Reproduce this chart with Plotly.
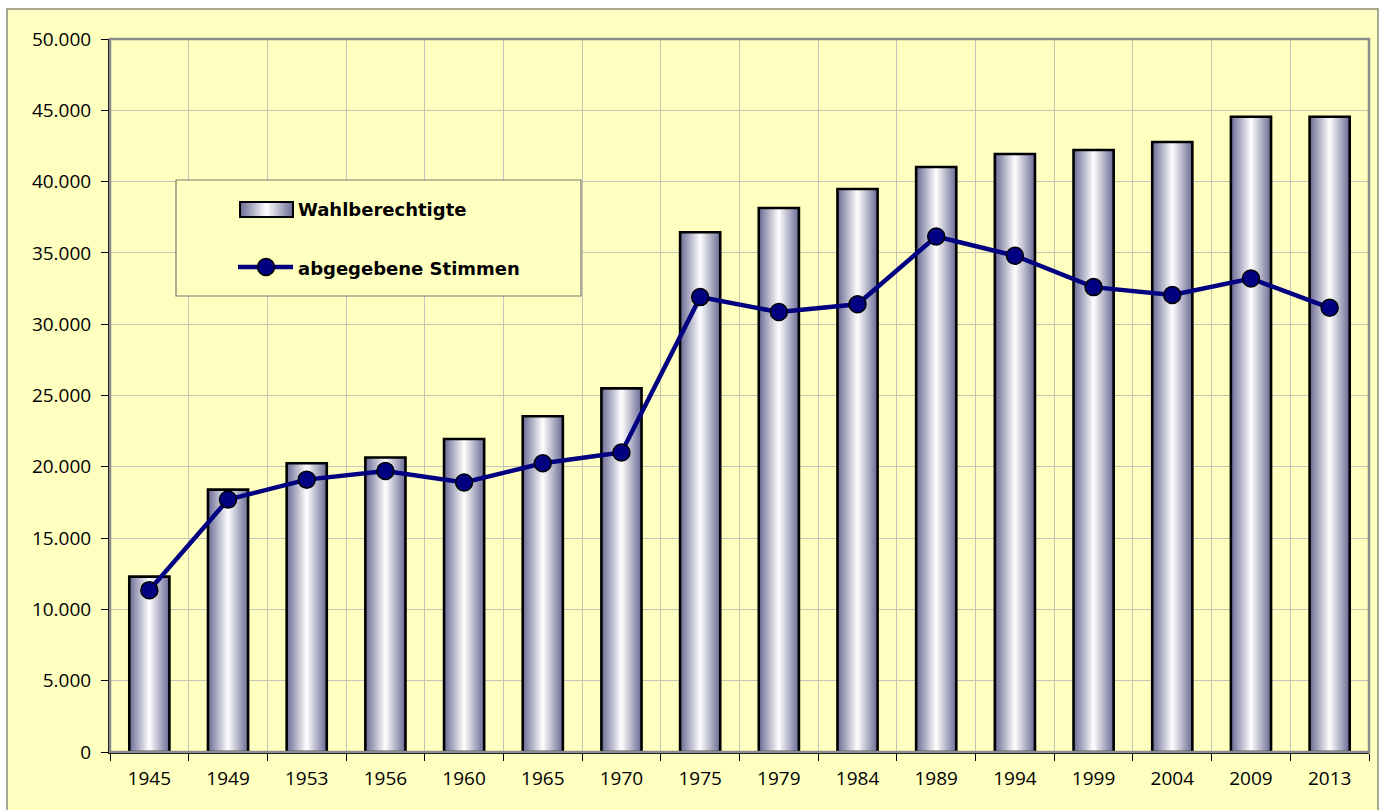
import plotly.graph_objects as go

# Election years and counts
years = ["1945", "1949", "1953", "1956", "1960", "1965", "1970", "1975",
         "1979", "1984", "1989", "1994", "1999", "2004", "2009", "2013"]
wahlberechtigte = [12300, 18400, 20250, 20650, 21950, 23550, 25500, 36450,
                   38150, 39480, 41020, 41940, 42220, 42780, 44550, 44550]
abgegebene_stimmen = [11350, 17700, 19100, 19700, 18900, 20250, 21000, 31900,
                      30850, 31400, 36150, 34800, 32600, 32050, 33200, 31150]
y_ticks = list(range(0, 50001, 5000))

W, H = 1388, 810
ML, MR, MT, MB = 110, 19, 39, 58
PW, PH = W - ML - MR, H - MT - MB

BG = "#FFFFC0"
GRID = "#C4C4BA"
NAVY = "#000080"
EDGE = (106, 106, 148)
WHITE = (255, 255, 255)


def px_x(px):
    return (px - ML) / PW


def px_y(py):
    return (H - MB - py) / PH


def shade(d):
    """Colour at normalised distance d from bar centre (0 centre, 1 edge)."""
    r, g, b = (round(WHITE[i] + (EDGE[i] - WHITE[i]) * d) for i in range(3))
    return f"rgb({r},{g},{b})"


fig = go.Figure()

# Cylinder-like bars: nested overlaid bars, darker at the edges, white centre
BAR_W = 0.51
N = 18
for k in range(N):
    d = 1 - (k + 0.5) / N
    fig.add_trace(go.Bar(
        x=years, y=wahlberechtigte, width=BAR_W * (1 - k / N),
        marker=dict(color=shade(d), line=dict(width=0)),
        showlegend=False, hoverinfo="skip"))
# black outline on top
fig.add_trace(go.Bar(
    x=years, y=wahlberechtigte, width=BAR_W, name="Wahlberechtigte",
    marker=dict(color="rgba(0,0,0,0)", line=dict(color="black", width=2.6)),
    showlegend=False))

fig.add_trace(go.Scatter(
    x=years, y=abgegebene_stimmen, mode="lines+markers",
    name="abgegebene Stimmen",
    line=dict(color=NAVY, width=4.5),
    marker=dict(size=17, color=NAVY, line=dict(color="black", width=1.5)),
    showlegend=False))

n = len(years)
boundaries = [i - 0.5 for i in range(n + 1)]

shapes = [
    # chart area
    dict(type="rect", xref="paper", yref="paper", layer="below",
         x0=px_x(7), x1=px_x(1378), y0=px_y(830), y1=px_y(9),
         fillcolor=BG, line=dict(color="#8A8A78", width=1.5)),
    # plot area frame (top / right)
    dict(type="rect", xref="paper", yref="paper", layer="above",
         x0=0, x1=1, y0=0, y1=1, line=dict(color="#8C8C8C", width=2.5)),
    # legend box
    dict(type="rect", xref="paper", yref="paper", layer="above",
         x0=px_x(176), x1=px_x(581), y0=px_y(296), y1=px_y(180),
         fillcolor=BG, line=dict(color="#7A7A6E", width=1.2)),
]

# legend bar swatch with the same gradient
sx0, sx1, sy0, sy1 = 240, 293, 217, 202
M = 12
for k in range(M):
    d = 1 - (k + 0.5) / M
    half = (sx1 - sx0) / 2 * (1 - k / M)
    cx = (sx0 + sx1) / 2
    shapes.append(dict(type="rect", xref="paper", yref="paper", layer="above",
                       x0=px_x(cx - half), x1=px_x(cx + half),
                       y0=px_y(sy0), y1=px_y(sy1),
                       fillcolor=shade(d), line=dict(width=0)))
shapes.append(dict(type="rect", xref="paper", yref="paper", layer="above",
                   x0=px_x(sx0), x1=px_x(sx1), y0=px_y(sy0), y1=px_y(sy1),
                   line=dict(color="black", width=2)))
# legend line swatch
shapes.append(dict(type="line", xref="paper", yref="paper", layer="above",
                   x0=px_x(238), x1=px_x(293), y0=px_y(267), y1=px_y(267),
                   line=dict(color=NAVY, width=4.5)))
shapes.append(dict(type="circle", xref="paper", yref="paper", layer="above",
                   xsizemode="pixel", ysizemode="pixel",
                   xanchor=px_x(266), yanchor=px_y(267),
                   x0=-8.5, x1=8.5, y0=-8.5, y1=8.5,
                   fillcolor=NAVY, line=dict(color="black", width=1.5)))

legend_font = dict(family="DejaVu Sans", size=18, color="black", weight="bold")
annotations = [
    dict(xref="paper", yref="paper", x=px_x(296), y=px_y(209),
         xanchor="left", yanchor="middle", showarrow=False,
         text="Wahlberechtigte", font=legend_font),
    dict(xref="paper", yref="paper", x=px_x(296), y=px_y(268),
         xanchor="left", yanchor="middle", showarrow=False,
         text="abgegebene Stimmen", font=legend_font),
]

tick_font = dict(family="Open Sans", size=19, color="black")

fig.update_layout(
    width=W, height=H,
    margin=dict(l=ML, r=MR, t=MT, b=MB),
    paper_bgcolor="white",
    plot_bgcolor="rgba(0,0,0,0)",
    barmode="overlay",
    separators=",.",
    shapes=shapes,
    annotations=annotations,
    xaxis=dict(
        type="category", categoryorder="array", categoryarray=years,
        range=[-0.5, n - 0.5],
        tickson="boundaries", ticks="outside", ticklen=7, tickwidth=1.2,
        tickcolor="black",
        showgrid=True, gridcolor=GRID, gridwidth=1,
        showline=True, linecolor="black", linewidth=2,
        tickfont=tick_font, ticklabelstandoff=8, zeroline=False),
    xaxis2=dict(
        overlaying="x", anchor="y", side="bottom", type="linear",
        range=[-0.5, n - 0.5], tickvals=boundaries, ticks="inside",
        ticklen=7, tickwidth=1.2, tickcolor="black",
        showticklabels=False, showgrid=False, zeroline=False, showline=False),
    yaxis=dict(
        range=[0, 50000], tickvals=y_ticks, tickformat=",d",
        ticks="outside", ticklen=7, tickwidth=1.2, tickcolor="black",
        showgrid=True, gridcolor=GRID, gridwidth=1,
        showline=True, linecolor="black", linewidth=2,
        tickfont=tick_font, ticklabelstandoff=6, zeroline=False),
    yaxis2=dict(
        overlaying="y", anchor="x", side="left",
        range=[0, 50000], tickvals=y_ticks, ticks="inside",
        ticklen=7, tickwidth=1.2, tickcolor="black",
        showticklabels=False, showgrid=False, zeroline=False, showline=False),
)

fig.write_html("out.html")
